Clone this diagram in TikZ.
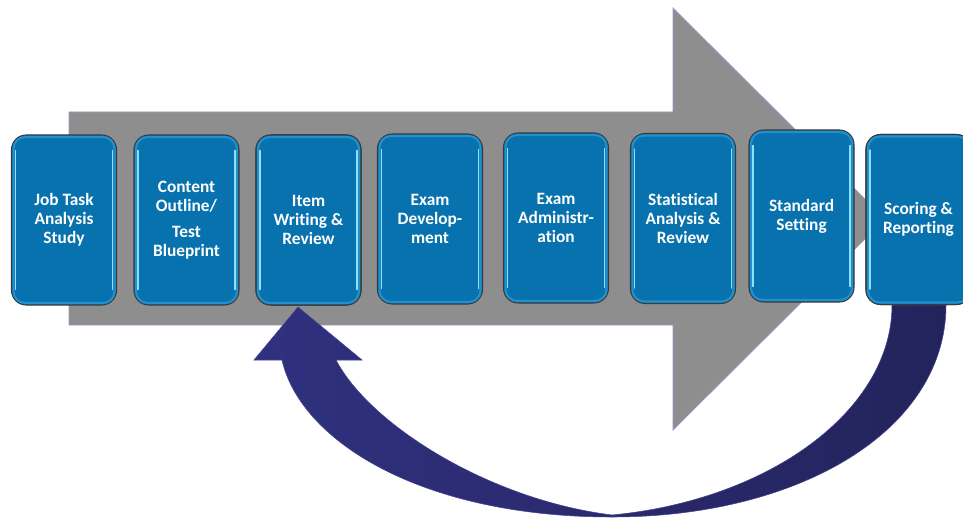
\documentclass[tikz,border=0pt]{standalone}
\usepackage{fontspec}
\setmainfont{Carlito}[Ligatures=NoCommon]
\usetikzlibrary{calc}
\definecolor{arrowgray}{HTML}{8E8E8E}
\definecolor{grayedge}{HTML}{9A98C8}
\definecolor{boxblue}{HTML}{0872AE}
\definecolor{boxedge}{HTML}{3A3A3A}
\definecolor{rimblue}{HTML}{2290CC}
\definecolor{hlblue}{HTML}{8FE0FF}
\definecolor{loopleft}{HTML}{30317F}
\definecolor{loopright}{HTML}{23235C}
\definecolor{loopedge}{HTML}{44448E}
\tikzset{
  stagebox/.style={draw=boxedge, line width=0.8pt, fill=boxblue, rounded corners=11pt,
    minimum width=78.75pt, minimum height=127.5pt, inner sep=0pt, text=white,
    align=center, font=\bfseries\fontsize{13}{14.3}\selectfont},
  rim/.style={draw=rimblue, line width=1.6pt, rounded corners=8.5pt},
  hl/.style={draw=hlblue, line width=1pt, line cap=round},
}
\begin{document}
\begin{tikzpicture}[x=0.75pt,y=-0.75pt]
\clip (0,0) rectangle (963,520);
\fill[white] (0,0) rectangle (963,520);
% big gray arrow
\draw[fill=arrowgray, draw=grayedge, line width=0.6pt]
  (69,112) -- (673,112) -- (673,8) -- (885,219) -- (673,430) -- (673,325) -- (69,325) -- cycle;
% stages
\node[stagebox] (b1) at (64,220) {Job Task\\Analysis\\Study};
\node[stagebox] (b2) at (186.5,220) {Content\\Outline/\\[5pt]Test\\Blueprint};
\node[stagebox] (b3) at (308.5,220) {Item\\Writing \&\\Review};
\node[stagebox] (b4) at (430,219) {Exam\\Develop-\\ment};
\node[stagebox] (b5) at (556,218) {Exam\\Administr-\\ation};
\node[stagebox] (b6) at (683,218.5) {Statistical\\Analysis \&\\Review};
\node[stagebox, minimum height=129pt] (b7) at (801.5,216) {Standard\\Setting};
\node[stagebox] (b8) at (918.5,219.5) {Scoring \&\\Reporting};
% loop-back arrow from Scoring & Reporting to Item Writing & Review
\coordinate (ro) at ($(b8.south)+(27.5,0)$);
\coordinate (ri) at ($(b8.south)+(-26.5,0)$);
\coordinate (tip) at ($(b3.south)+(-10.5,1.5)$);
\shadedraw[left color=loopleft, right color=loopright, draw=loopedge, line width=0.4pt]
  (ro) .. controls (946,430) and (800,517) .. (612,517)
  .. controls (420,517) and (300,440) .. (282,360)
  -- (254,360) -- (tip) -- (362,360) -- (336,360)
  .. controls (370,425) and (490,500) .. (612,515)
  .. controls (770,500) and (892,410) .. (ri) -- cycle;
% redraw the two end boxes on top of the loop arrow
\node[stagebox] at (b3) {Item\\Writing \&\\Review};
\node[stagebox] at (b8) {Scoring \&\\Reporting};
% glossy bevel
\foreach \n in {b1,b2,b3,b4,b5,b6,b7,b8}{
  \draw[rim] ($(\n.north west)+(2.6,2.6)$) rectangle ($(\n.south east)+(-2.6,-2.6)$);
  \draw[hl] ($(\n.north west)+(4.5,16)$) -- ($(\n.south west)+(4.5,-16)$);
  \draw[hl] ($(\n.north east)+(-4.5,16)$) -- ($(\n.south east)+(-4.5,-16)$);
}
\end{tikzpicture}
\end{document}
